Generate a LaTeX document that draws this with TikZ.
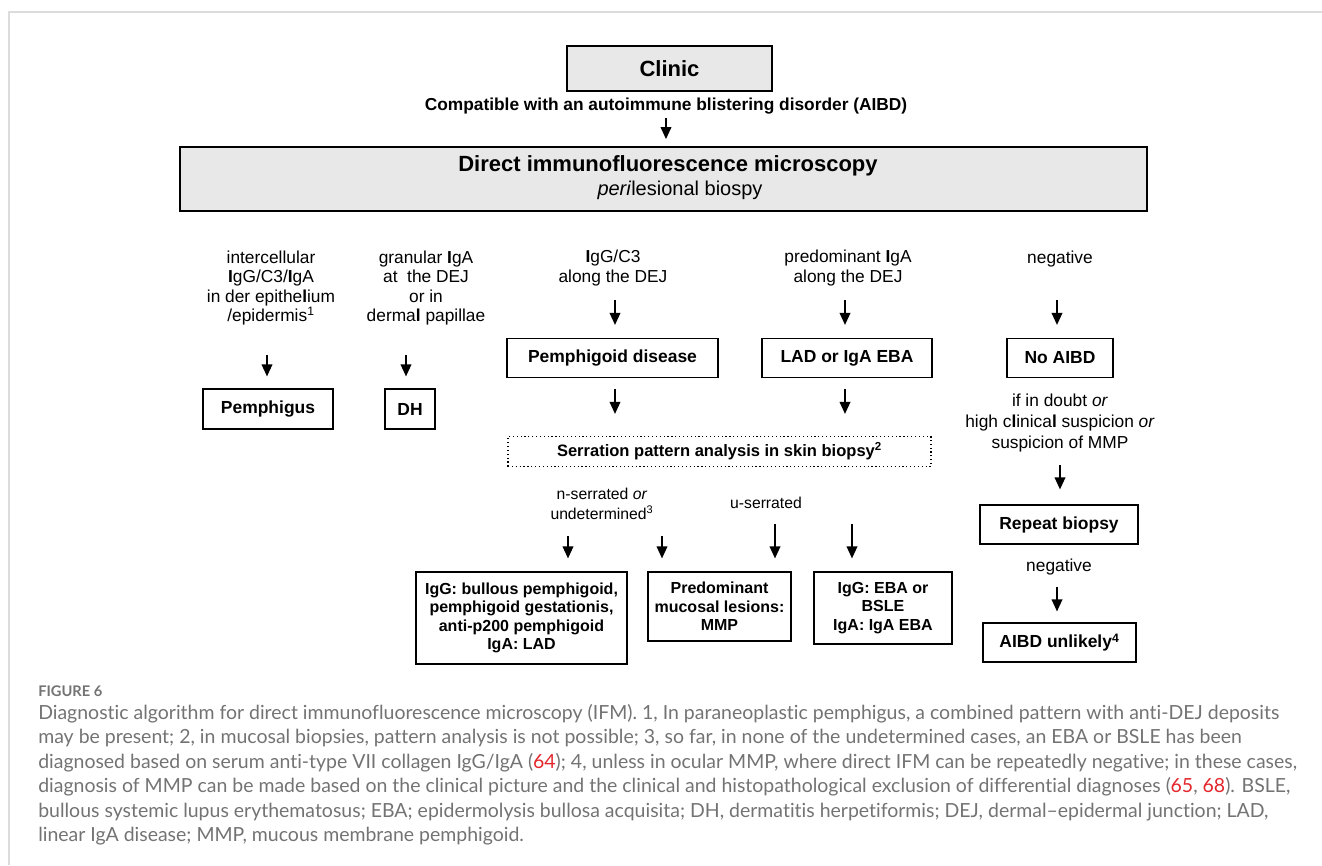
\documentclass[tikz,border=0pt]{standalone}
\usepackage{fontspec}
\setmainfont{Liberation Sans}
\newfontfamily\capfont[Ligatures=NoCommon]{Lato}
\usetikzlibrary{arrows.meta}
\definecolor{boxgray}{HTML}{E8E8E8}
\definecolor{capgray}{HTML}{737373}
\definecolor{capred}{HTML}{E3262B}
\definecolor{framegray}{HTML}{DCDCDC}
\newcommand{\bI}{\textbf{I}}
\newcommand{\bl}{\textbf{l}}
\newcommand{\rowfont}{\fontsize{13pt}{14.5pt}\selectfont}
\newcommand{\labfont}{\fontsize{13.1pt}{15.5pt}\selectfont\bfseries}
\newcommand{\resfont}{\fontsize{12pt}{13.75pt}\selectfont\bfseries}

\begin{document}
\begin{tikzpicture}
[x=0.75pt,y=-0.75pt,%
  every node/.style={inner sep=0pt,align=center,font=\rowfont},%
  box/.style 2 args={draw,line width=0.9pt,font=\labfont,minimum width=#1,minimum height=#2},%
  grbox/.style 2 args={box={#1}{#2},fill=boxgray,line width=1.4pt},%
  arr/.style={-{Triangle[length=9pt,width=8pt]},line width=1.1pt},%
  capline/.style={anchor=base west,font=\capfont\fontsize{14.6pt}{17pt}\selectfont,text=capgray}]
\useasboundingbox (0,0) rectangle (1322,865);
\draw[framegray,line width=1.5pt] (9,865) -- (9,12) -- (1322,12);

\node[grbox={153.75pt}{33.75pt},font=\fontsize{16.5pt}{19pt}\selectfont\bfseries] (clinic) at (669.5,68.5) {Clinic};
\node[font=\fontsize{13pt}{15pt}\selectfont\bfseries] (cmp) at (666,106) {Compatible with an autoimmune blistering disorder (AIBD)};
\node[grbox={725.25pt}{48pt}] (dif) at (663.5,179) {};
\node[font=\fontsize{16.5pt}{19pt}\selectfont\bfseries] (dift) at (668,166) {Direct immunofluorescence microscopy};
\node[font=\fontsize{15pt}{17pt}\selectfont] (difs) at (680,190) {\textit{peri}lesional biospy};

\node (t1) at (271,288) {intercellular\\\bI gG/C3/\bI gA\\in der epithe\bl ium\\/epidermis\textsuperscript{1}};
\node (t2) at (426,288) {granular \bI gA\\at\ \ the DEJ\\or in\\derma\bl\ papillae};
\node (t3) at (613,268) {\bI gG/C3\\along the DEJ};
\node (t4) at (848,268) {predominant \bI gA\\along the DEJ};
\node (t5) at (1060,259) {negative};

\node[box={97.5pt}{30pt}] (pem) at (268,409) {Pemphigus};
\node[box={37.5pt}{30pt}] (dh) at (410,409) {DH};
\node[box={158.25pt}{29.25pt}] (pd) at (612.5,358) {Pemphigoid disease};
\node[box={127.5pt}{29.25pt}] (lad) at (847,358) {LAD or IgA EBA};
\node[box={79.5pt}{29.25pt}] (noa) at (1060,358) {No AIBD};

\node[box={317.25pt}{22.5pt},dotted,font=\fontsize{12.4pt}{14.5pt}\selectfont\bfseries] (ser) at (719.5,451.5) {Serration pattern analysis in skin biopsy\textsuperscript{2}};
\node[font=\fontsize{11.8pt}{15pt}\selectfont] (t8) at (602,504) {n-serrated \textit{or}\\undetermined\textsuperscript{3}};
\node[font=\fontsize{11.8pt}{15pt}\selectfont] (t9) at (766,503) {u-serrated};

\node[box={158.25pt}{69pt},font=\resfont] (lb) at (521.5,618) {IgG: bullous pemphigoid,\\pemphigoid gestationis,\\anti-p200 pemphigoid\\IgA: LAD};
\node[box={107.25pt}{51.75pt},font=\resfont] (mb) at (719.5,606.5) {Predominant\\mucosal lesions:\\MMP};
\node[box={103.5pt}{54pt},font=\resfont] (rb) at (883,608) {IgG: EBA or\\BSLE\\IgA: IgA EBA};

\node[font=\fontsize{13pt}{15.75pt}\selectfont] (t6) at (1060,423) {if in doubt \textit{or}\\high c\bl inica\bl\ suspicion \textit{or}\\suspicion of MMP};
\node[box={118.5pt}{29.25pt}] (rep) at (1059,524.5) {Repeat biopsy};
\node (t7) at (1059,567) {negative};
\node[box={114.75pt}{29.25pt}] (unl) at (1059.5,642.5) {AIBD unlikely\textsuperscript{4}};

\coordinate (a0) at (666,118);
\coordinate (a1) at (267,355);
\coordinate (a2) at (406,355);
\coordinate (a3) at (615,300);
\coordinate (a4) at (845,300);
\coordinate (a5) at (1057,300);
\coordinate (a6) at (615,389);
\coordinate (a7) at (845,389);
\coordinate (a8) at (568,536);
\coordinate (a9) at (662,536);
\coordinate (a10) at (775,524);
\coordinate (a11) at (852,524);
\coordinate (a12) at (1060,465);
\coordinate (a13) at (1057,587);
\draw[arr,shorten >=5.25pt] (a0) -- (a0 |- dif.north);
\draw[arr,shorten >=9pt] (a1) -- (a1 |- pem.north);
\draw[arr,shorten >=9pt] (a2) -- (a2 |- dh.north);
\draw[arr,shorten >=9.75pt] (a3) -- (a3 |- pd.north);
\draw[arr,shorten >=9.75pt] (a4) -- (a4 |- lad.north);
\draw[arr,shorten >=9.75pt] (a5) -- (a5 |- noa.north);
\draw[arr,shorten >=16.5pt] (a6) -- (a6 |- ser.north);
\draw[arr,shorten >=16.5pt] (a7) -- (a7 |- ser.north);
\draw[arr,shorten >=9.75pt] (a8) -- (a8 |- lb.north);
\draw[arr,shorten >=9.75pt] (a9) -- (a9 |- mb.north);
\draw[arr,shorten >=9.75pt] (a10) -- (a10 |- mb.north);
\draw[arr,shorten >=9.75pt] (a11) -- (a11 |- rb.north);
\draw[arr,shorten >=11.25pt] (a12) -- (a12 |- rep.north);
\draw[arr,shorten >=8.25pt] (a13) -- (a13 |- unl.north);

\node[anchor=base west,font=\capfont\fontsize{11pt}{13pt}\selectfont\bfseries,text=capgray] (fig) at (38,696) {FIGURE 6};
\node[capline] (cap1) at (38,719) {Diagnostic algorithm for direct immunofluorescence microscopy (IFM). 1, In paraneoplastic pemphigus, a combined pattern with anti-DEJ deposits};
\node[capline] (cap2) at (38,743.5) {may be present; 2, in mucosal biopsies, pattern analysis is not possible; 3, so far, in none of the undetermined cases, an EBA or BSLE has been};
\node[capline] (cap3) at (38,768) {diagnosed based on serum anti-type VII collagen IgG/IgA (\textcolor{capred}{64}); 4, unless in ocular MMP, where direct IFM can be repeatedly negative; in these cases,};
\node[capline] (cap4) at (38,792.5) {diagnosis of MMP can be made based on the clinical picture and the clinical and histopathological exclusion of differential diagnoses (\textcolor{capred}{65}, \textcolor{capred}{68}). BSLE,};
\node[capline] (cap5) at (38,817) {bullous systemic lupus erythematosus; EBA; epidermolysis bullosa acquisita; DH, dermatitis herpetiformis; DEJ, dermal–epidermal junction; LAD,};
\node[capline] (cap6) at (38,841.5) {linear IgA disease; MMP, mucous membrane pemphigoid.};
\end{tikzpicture}
\end{document}
